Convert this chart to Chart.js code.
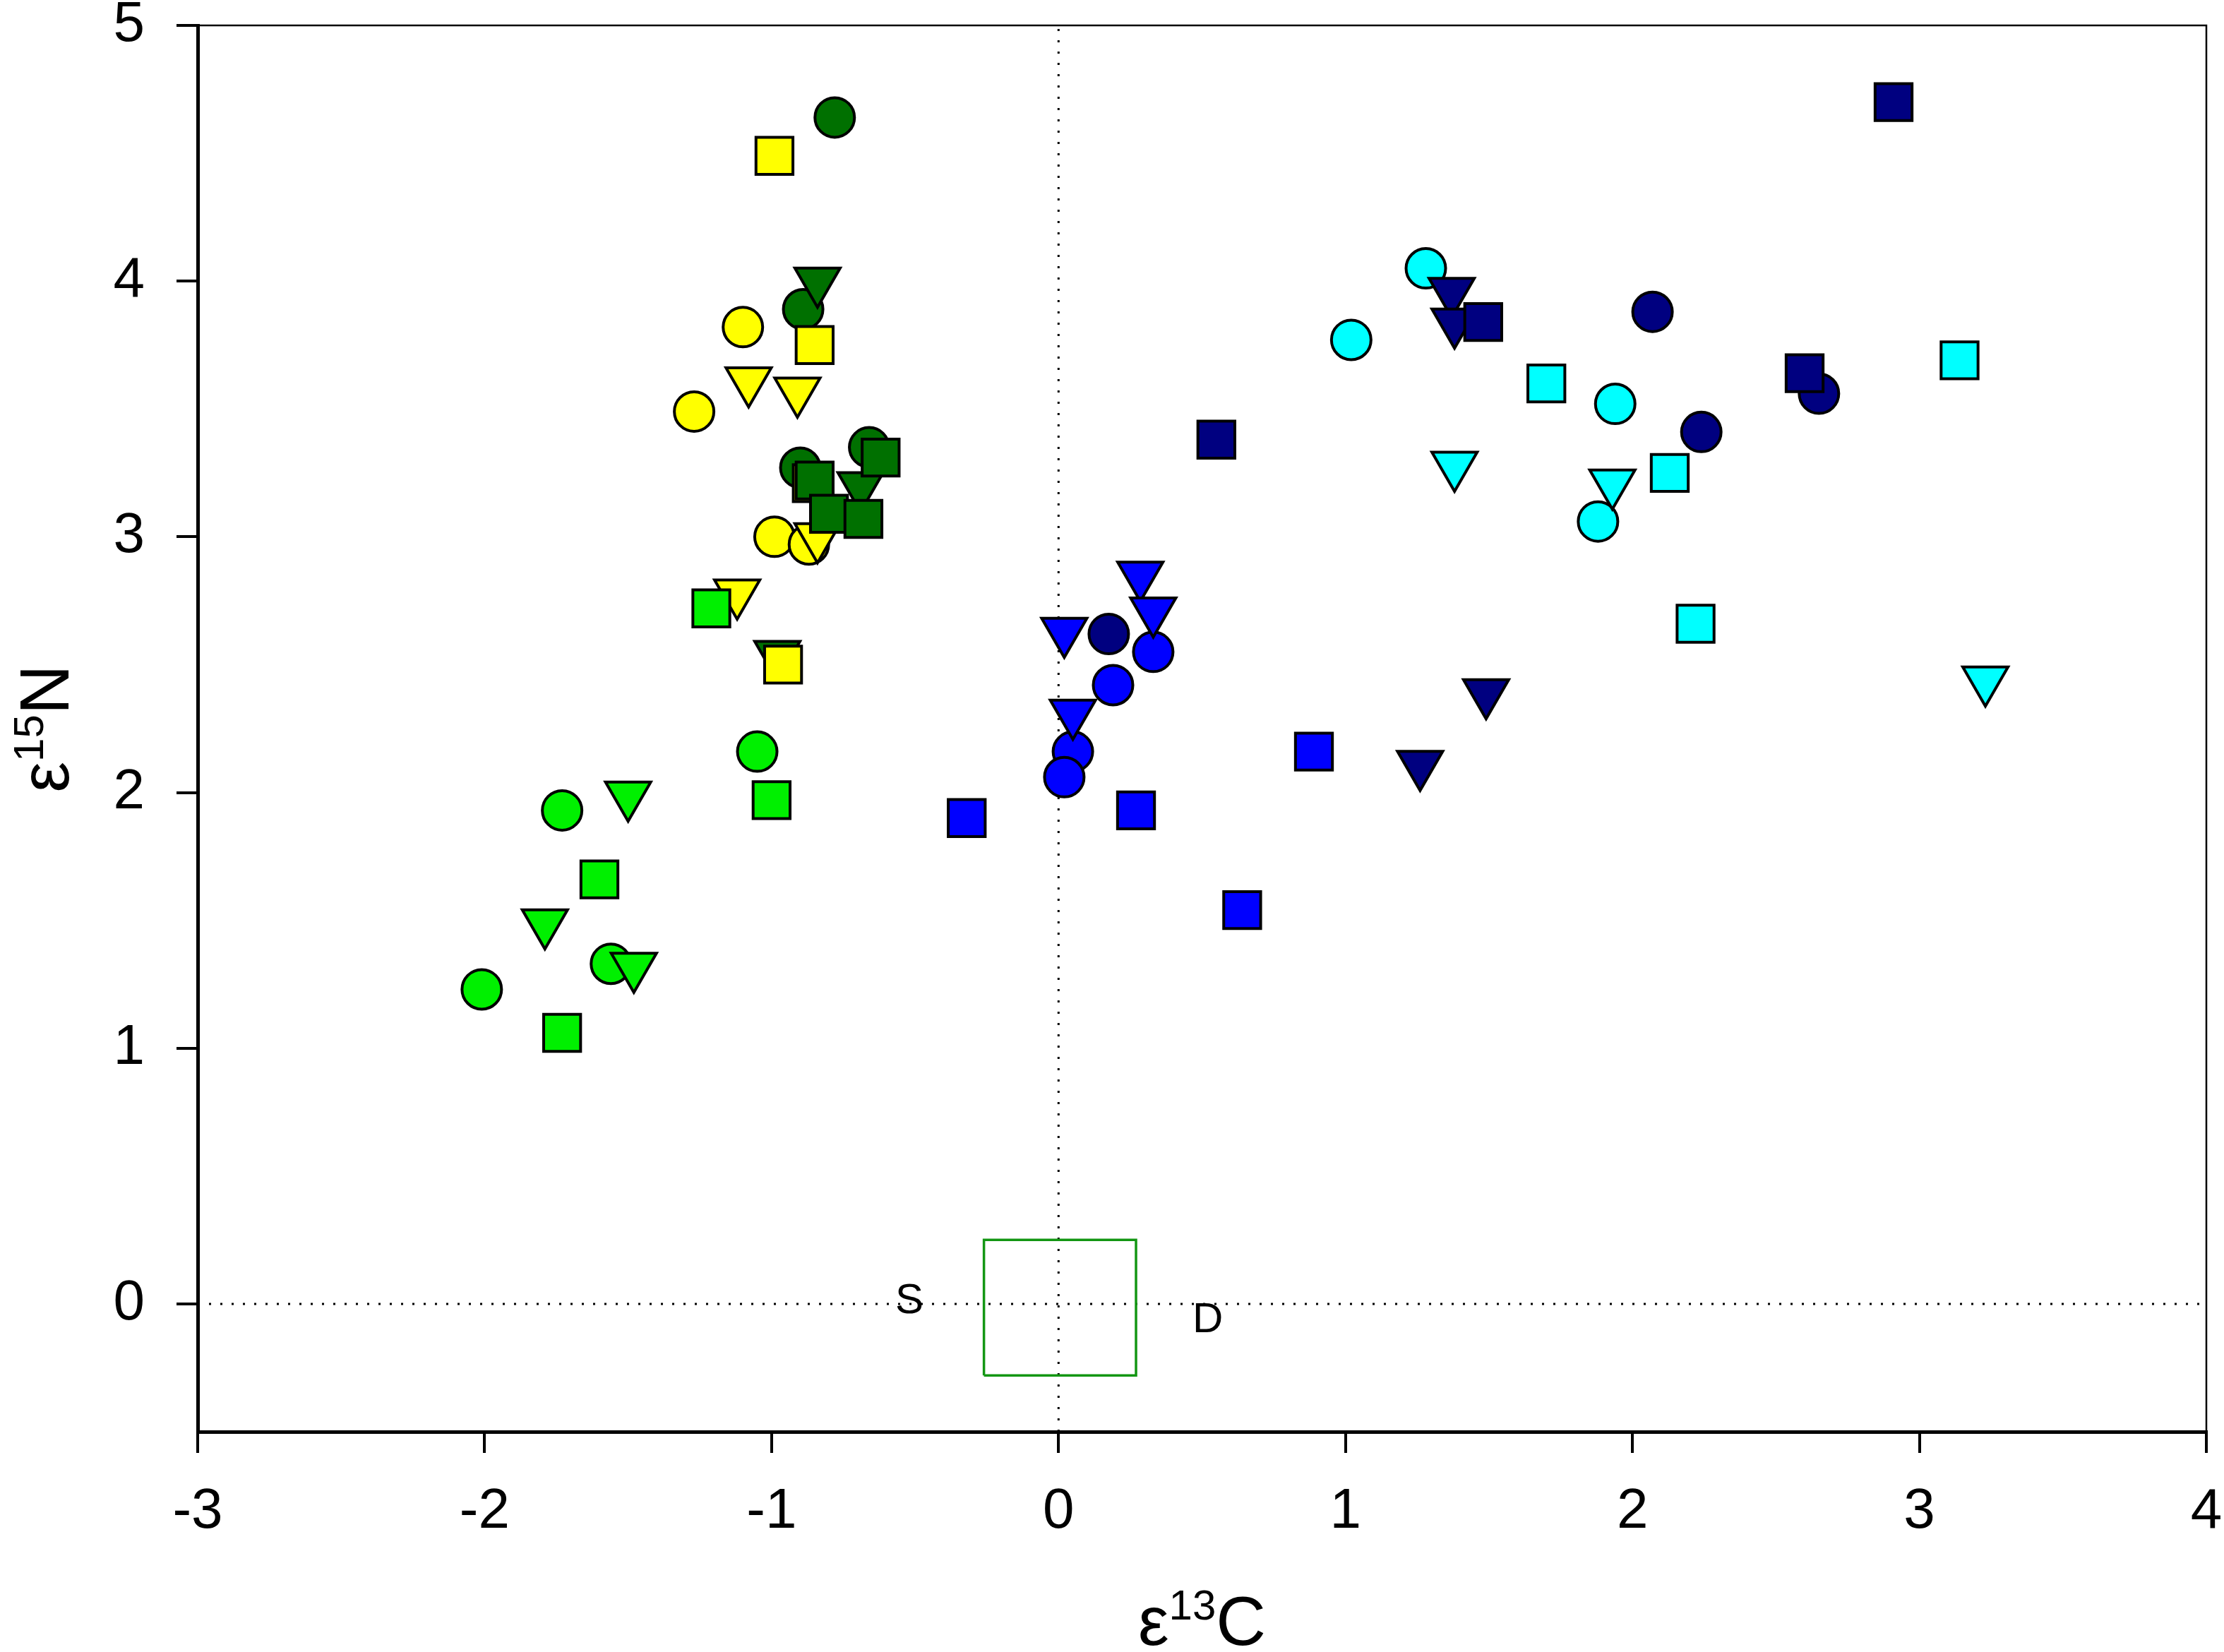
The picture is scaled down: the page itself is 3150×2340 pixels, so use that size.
<!DOCTYPE html>
<html>
<head>
<meta charset="utf-8">
<script src="https://cdn.jsdelivr.net/npm/chart.js@4.4.1/dist/chart.umd.min.js"></script>
<style>
  html, body { margin: 0; padding: 0; background: #fff; }
</style>
</head>
<body>
<canvas id="grafico" width="3150" height="2340"></canvas>
<script>
// axes
const xTicks = [-3, -2, -1, 0, 1, 2, 3, 4];
const yTicks = [0, 1, 2, 3, 4, 5];
const xRange = [-3, 4];
const yRange = [-0.5, 5];

// colour groups
const groupColors = {
    yellow: '#ffff00',
    darkgreen: '#007000',
    lime: '#00f000',
    blue: '#0000ff',
    navy: '#000080',
    cyan: '#00ffff'
};

// [e13C, e15N] per group and symbol
const yellowCircles = [[-1.10, 3.82], [-1.27, 3.49], [-0.99, 3.00], [-0.87, 2.97]];
const yellowSquares = [[-0.99, 4.49], [-0.85, 3.75], [-0.96, 2.50], [-0.86, 3.21]];
const yellowTriangles = [[-1.08, 3.61], [-0.91, 3.57], [-0.84, 3.00], [-1.12, 2.78]];

const darkgreenCircles = [[-0.78, 4.64], [-0.89, 3.89], [-0.90, 3.27], [-0.66, 3.35]];
const darkgreenSquares = [[-0.85, 3.22], [-0.80, 3.09], [-0.68, 3.07], [-0.62, 3.31]];
const darkgreenTriangles = [[-0.84, 4.00], [-0.69, 3.20], [-0.98, 2.54]];

const limeCircles = [[-1.05, 2.16], [-1.73, 1.93], [-1.56, 1.33], [-2.01, 1.23]];
const limeSquares = [[-1.21, 2.72], [-1.00, 1.97], [-1.60, 1.66], [-1.73, 1.06]];
const limeTriangles = [[-1.50, 1.99], [-1.79, 1.49], [-1.48, 1.32]];

const blueCircles = [[0.19, 2.42], [0.33, 2.55], [0.05, 2.16], [0.02, 2.06]];
const blueSquares = [[-0.32, 1.90], [0.27, 1.93], [0.89, 2.16], [0.64, 1.54]];
const blueTriangles = [[0.02, 2.63], [0.285, 2.85], [0.33, 2.71], [0.05, 2.31]];

const navyCircles = [[0.175, 2.62], [2.07, 3.88], [2.24, 3.41], [2.65, 3.56]];
const navySquares = [[0.55, 3.38], [1.48, 3.84], [2.60, 3.64], [2.91, 4.70]];
const navyTriangles = [[1.37, 3.96], [1.38, 3.84], [1.49, 2.39], [1.26, 2.11]];

const cyanCircles = [[1.28, 4.05], [1.02, 3.77], [1.94, 3.52], [1.88, 3.06]];
const cyanSquares = [[1.70, 3.60], [2.13, 3.25], [3.14, 3.69], [2.22, 2.66]];
const cyanTriangles = [[1.38, 3.28], [1.93, 3.21], [3.23, 2.44]];

// S / D reference box
const boxX = [-0.26, 0.27];
const boxY = [-0.28, 0.25];
const noteText = ['S', 'D'];
const noteX = [-0.52, 0.52];
const noteY = [0.01, -0.065];

const FONT = "'Liberation Sans', Arial, sans-serif";
const toPts = arr => arr.map(p => ({ x: p[0], y: p[1] }));

function markerSet(pts, color, shape) {
    const style = {
        circle: { pointStyle: 'circle', pointRadius: 28, pointRotation: 0, order: 3 },
        triangle: { pointStyle: 'triangle', pointRadius: 37, pointRotation: 180, order: 2 },
        rect: { pointStyle: 'rect', pointRadius: 37, pointRotation: 0, order: 1 }
    }[shape];
    return Object.assign({
        data: toPts(pts),
        showLine: false,
        pointBackgroundColor: color,
        pointBorderColor: '#000',
        pointBorderWidth: 4
    }, style);
}

const datasets = [
    // squares (top)
    markerSet(darkgreenSquares, groupColors.darkgreen, 'rect'),
    markerSet(yellowSquares, groupColors.yellow, 'rect'),
    markerSet(limeSquares, groupColors.lime, 'rect'),
    markerSet(navySquares, groupColors.navy, 'rect'),
    markerSet(blueSquares, groupColors.blue, 'rect'),
    markerSet(cyanSquares, groupColors.cyan, 'rect'),
    // triangles
    markerSet(darkgreenTriangles, groupColors.darkgreen, 'triangle'),
    markerSet(yellowTriangles, groupColors.yellow, 'triangle'),
    markerSet(limeTriangles, groupColors.lime, 'triangle'),
    markerSet(navyTriangles, groupColors.navy, 'triangle'),
    markerSet(blueTriangles, groupColors.blue, 'triangle'),
    markerSet(cyanTriangles, groupColors.cyan, 'triangle'),
    // circles
    markerSet(darkgreenCircles, groupColors.darkgreen, 'circle'),
    markerSet(yellowCircles, groupColors.yellow, 'circle'),
    markerSet(limeCircles, groupColors.lime, 'circle'),
    markerSet(navyCircles, groupColors.navy, 'circle'),
    markerSet(blueCircles, groupColors.blue, 'circle'),
    markerSet(cyanCircles, groupColors.cyan, 'circle'),
    // dotted zero lines
    {
        data: [{ x: xRange[0], y: 0 }, { x: xRange[1], y: 0 }],
        showLine: true, borderColor: '#000', borderWidth: 3, borderDash: [3, 13],
        pointRadius: 0, order: 10
    },
    {
        data: [{ x: 0, y: yRange[0] }, { x: 0, y: yRange[1] }],
        showLine: true, borderColor: '#000', borderWidth: 3, borderDash: [3, 13],
        pointRadius: 0, order: 10
    },
    // green box
    {
        data: [
            { x: boxX[0], y: boxY[0] }, { x: boxX[1], y: boxY[0] },
            { x: boxX[1], y: boxY[1] }, { x: boxX[0], y: boxY[1] },
            { x: boxX[0], y: boxY[0] }
        ],
        showLine: true, borderColor: '#139613', borderWidth: 3.5,
        pointRadius: 0, order: 9
    }
];

// draws a title made of normal and superscript pieces
function richWidth(ctx, parts) {
    let w = 0;
    parts.forEach(p => { ctx.font = p.size + 'px ' + FONT; w += ctx.measureText(p.t).width; });
    return w;
}
function drawRich(ctx, parts, cx, baseline) {
    let x = cx - richWidth(ctx, parts) / 2;
    ctx.textAlign = 'left';
    ctx.textBaseline = 'alphabetic';
    parts.forEach(p => {
        ctx.font = p.size + 'px ' + FONT;
        ctx.fillText(p.t, x, baseline - (p.rise || 0));
        x += ctx.measureText(p.t).width;
    });
}

const extras = {
    id: 'extras',
    afterDatasetsDraw(chart) {
        const { ctx, chartArea: a, scales } = chart;
        ctx.save();
        // top and right frame
        ctx.strokeStyle = '#000';
        ctx.lineWidth = 2.5;
        ctx.beginPath();
        ctx.moveTo(a.left, a.top);
        ctx.lineTo(a.right, a.top);
        ctx.lineTo(a.right, a.bottom);
        ctx.stroke();
        // S / D notes
        ctx.fillStyle = '#000';
        ctx.font = '60px ' + FONT;
        ctx.textAlign = 'center';
        ctx.textBaseline = 'middle';
        noteText.forEach((t, i) => {
            ctx.fillText(t, scales.x.getPixelForValue(noteX[i]), scales.y.getPixelForValue(noteY[i]));
        });
        // axis titles
        const midX = (a.left + a.right) / 2;
        const midY = (a.top + a.bottom) / 2;
        drawRich(ctx, [{ t: 'ε', size: 98 }, { t: '13', size: 60, rise: 36 }, { t: 'C', size: 98 }], midX, 2330);
        ctx.translate(97, midY);
        ctx.rotate(-Math.PI / 2);
        drawRich(ctx, [{ t: 'ε', size: 98 }, { t: '15', size: 60, rise: 36 }, { t: 'N', size: 98 }], 0, 0);
        ctx.restore();
    }
};

const axisGrid = { drawOnChartArea: false, drawTicks: true, tickLength: 30, color: '#000', lineWidth: 4 };
const axisBorder = { display: true, color: '#000', width: 5 };

new Chart(document.getElementById('grafico'), {
    type: 'scatter',
    data: { datasets: datasets },
    options: {
        responsive: false,
        devicePixelRatio: 1,
        animation: false,
        events: [],
        layout: { autoPadding: false, padding: { left: 0, top: 36, right: 25, bottom: 0 } },
        plugins: { legend: { display: false }, tooltip: { enabled: false } },
        scales: {
            x: {
                type: 'linear',
                min: xRange[0],
                max: xRange[1],
                afterBuildTicks: s => { s.ticks = xTicks.map(v => ({ value: v })); },
                afterFit: s => { s.height = 312; s.paddingLeft = 0; s.paddingRight = 0; },
                grid: axisGrid,
                border: axisBorder,
                ticks: { color: '#000', font: { family: FONT, size: 80 }, padding: 36, maxRotation: 0 }
            },
            y: {
                type: 'linear',
                min: yRange[0],
                max: yRange[1],
                afterBuildTicks: s => { s.ticks = yTicks.map(v => ({ value: v })); },
                afterFit: s => { s.width = 280; s.paddingTop = 0; s.paddingBottom = 0; },
                grid: axisGrid,
                border: axisBorder,
                ticks: { color: '#000', font: { family: FONT, size: 80 }, padding: 45 }
            }
        }
    },
    plugins: [extras]
});
</script>
</body>
</html>
